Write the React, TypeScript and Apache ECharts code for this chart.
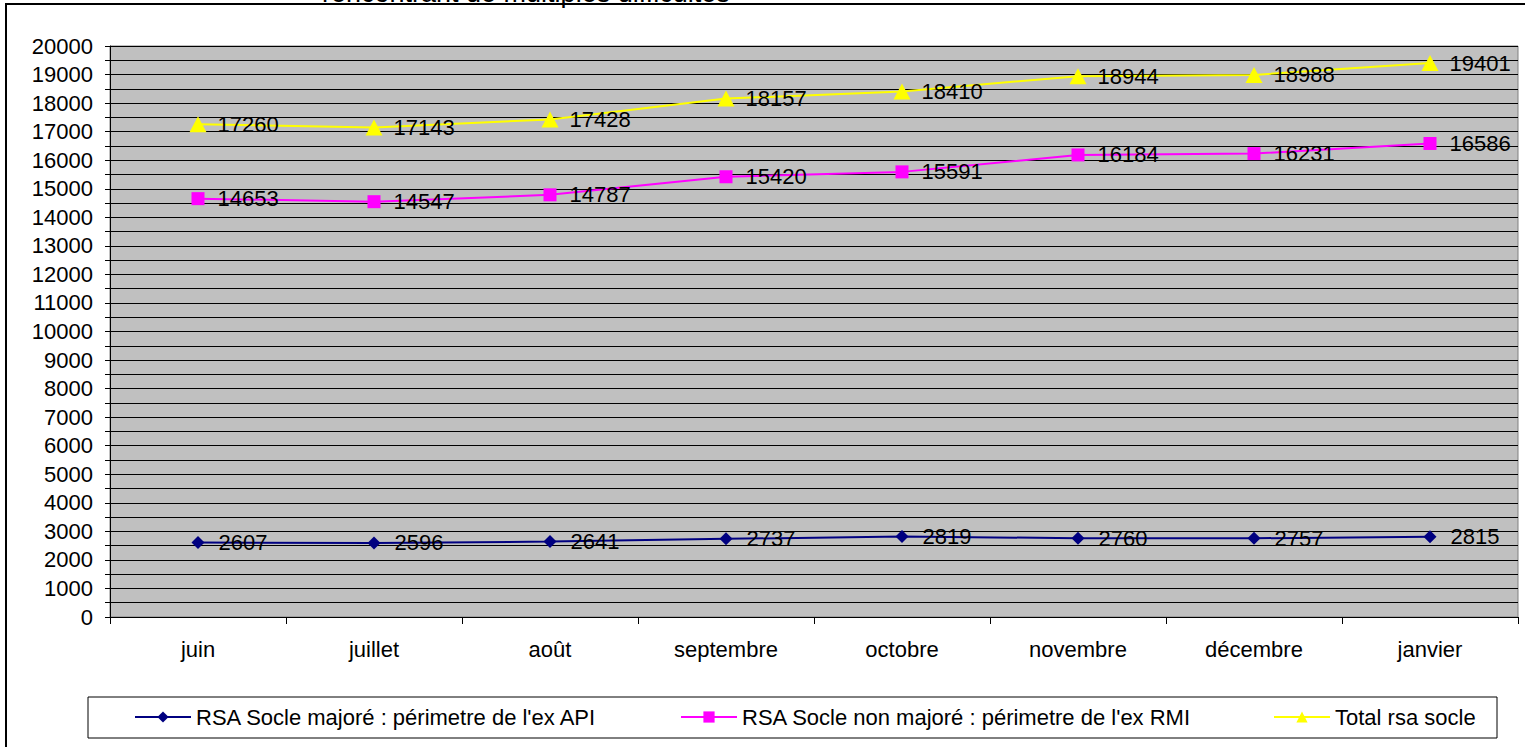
import React, { useEffect, useRef } from "react";
import * as echarts from "echarts";

const months = ["juin", "juillet", "août", "septembre", "octobre", "novembre", "décembre", "janvier"];
const majore = [2607, 2596, 2641, 2737, 2819, 2760, 2757, 2815];
const nonMajore = [14653, 14547, 14787, 15420, 15591, 16184, 16231, 16586];
const total = [17260, 17143, 17428, 18157, 18410, 18944, 18988, 19401];
const seriesNames = [
  "RSA Socle majoré : périmetre de l'ex API",
  "RSA Socle non majoré : périmetre de l'ex RMI",
  "Total rsa socle",
];
const topText = "rencontrant de multiples difficultés";

const FONT = "'Liberation Sans', Arial, sans-serif";
const FS = 22;

export default function App() {
  const ref = useRef<HTMLDivElement>(null);
  useEffect(() => {
    if (!ref.current) return;
    const chart = echarts.init(ref.current, null, { renderer: "svg" });
    const label = (dist: number) => ({
      show: true,
      position: "right",
      distance: dist,
      color: "#000",
      fontSize: FS,
      fontFamily: FONT,
    });
    const legendBase = {
      top: 706,
      padding: 0,
      itemWidth: 56,
      itemHeight: 14,
      itemGap: 0,
      textStyle: { color: "#000", fontSize: FS, fontFamily: FONT },
    };
    chart.setOption({
      animation: false,
      backgroundColor: "#fff",
      textStyle: { fontFamily: FONT },
      grid: {
        left: 110,
        right: 7,
        top: 46,
        bottom: 130,
        show: true,
        backgroundColor: "#c0c0c0",
        borderColor: "#808080",
        borderWidth: 1,
      },
      xAxis: {
        type: "category",
        data: months,
        boundaryGap: true,
        axisLine: { lineStyle: { color: "#000", width: 1 } },
        axisTick: { show: true, interval: 0, length: 7, lineStyle: { color: "#000" } },
        axisLabel: { color: "#000", fontSize: FS, fontFamily: FONT, margin: 21, interval: 0 },
        splitLine: { show: false },
      },
      yAxis: {
        type: "value",
        min: 0,
        max: 20000,
        interval: 500,
        axisLine: { show: true, lineStyle: { color: "#000", width: 1 } },
        axisTick: { show: true, length: 5, lineStyle: { color: "#000" } },
        axisLabel: {
          color: "#000",
          fontSize: FS,
          fontFamily: FONT,
          margin: 17,
          formatter: (v: number) => (v % 1000 === 0 ? String(v) : ""),
        },
        splitLine: { show: true, lineStyle: { color: "#000", width: 1 } },
      },
      legend: [
        { ...legendBase, left: 134, data: [seriesNames[0]] },
        { ...legendBase, left: 680, data: [seriesNames[1]] },
        { ...legendBase, left: 1273, data: [seriesNames[2]] },
      ],
      graphic: [
        {
          type: "text",
          x: 322,
          y: 6,
          style: {
            text: topText,
            fontSize: 27,
            fontWeight: "normal",
            fontFamily: FONT,
            fill: "#000",
            verticalAlign: "bottom",
          },
          z: 1,
        },
        {
          type: "rect",
          shape: { x: 6, y: 4, width: 1530, height: 770 },
          style: { fill: "none", stroke: "#000", lineWidth: 2 },
          silent: true,
          z: 3,
        },
        {
          type: "rect",
          shape: { x: 88, y: 697, width: 1409, height: 41 },
          style: { fill: "none", stroke: "#000", lineWidth: 1 },
          silent: true,
          z: 3,
        },
      ],
      series: [
        {
          name: seriesNames[0],
          type: "line",
          data: majore,
          symbol: "diamond",
          symbolSize: 13,
          lineStyle: { color: "#000080", width: 2 },
          itemStyle: { color: "#000080" },
          label: label(14),
        },
        {
          name: seriesNames[1],
          type: "line",
          data: nonMajore,
          symbol: "rect",
          symbolSize: 13,
          lineStyle: { color: "#ff00ff", width: 2 },
          itemStyle: { color: "#ff00ff" },
          label: label(13),
        },
        {
          name: seriesNames[2],
          type: "line",
          data: total,
          symbol: "triangle",
          symbolSize: [17, 16],
          lineStyle: { color: "#ffff00", width: 2 },
          itemStyle: { color: "#ffff00" },
          label: label(11),
        },
      ],
    });
    return () => chart.dispose();
  }, []);
  return (
    <div
      ref={ref}
      style={{ position: "absolute", left: 0, top: 0, width: 1525, height: 747 }}
    />
  );
}
